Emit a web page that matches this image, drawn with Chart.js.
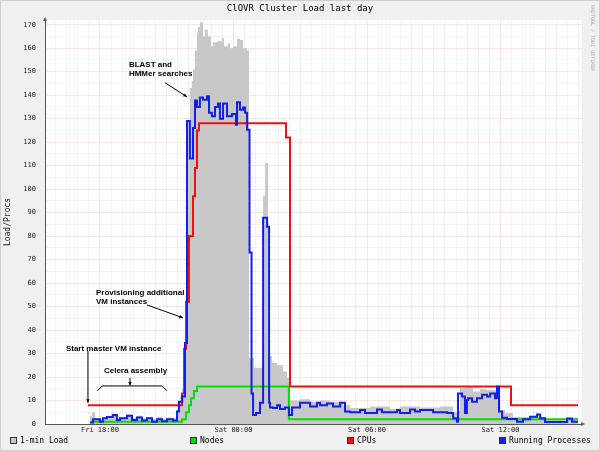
<!DOCTYPE html>
<html>
<head>
<meta charset="utf-8">
<script src="https://cdn.jsdelivr.net/npm/chart.js@4"></script>
<style>
  html, body { margin: 0; padding: 0; background: #f0f0f0; }
  #wrap { width: 600px; height: 451px; }
</style>
</head>
<body>
<div id="wrap"><canvas id="loadChart" width="600" height="451"></canvas></div>
<script>
// time is hours since Fri 00:00 (24 = Sat 00:00)
var loadTimes = [17.55, 17.64, 17.78, 18.00, 18.13, 18.31, 18.58, 18.76, 18.90, 19.21, 19.44, 19.66, 19.89, 20.11,
  20.34, 20.56, 20.79, 21.01, 21.28, 21.46, 21.60, 21.69, 21.78, 21.87, 21.96, 22.04, 22.13, 22.18, 22.27, 22.36,
  22.40, 22.49, 22.63, 22.72, 22.85, 22.99, 23.08, 23.26, 23.48, 23.57, 23.75, 23.84, 23.98, 24.16, 24.29, 24.43,
  24.61, 24.70, 24.92, 25.33, 25.42, 25.55, 25.73, 25.96, 26.22, 26.40, 26.54, 26.99, 27.44, 27.89, 28.34, 28.92,
  29.24, 30.13, 31.03, 31.48, 32.38, 33.28, 33.87, 34.04, 34.18, 34.49, 34.76, 35.08, 35.39, 35.84, 35.98, 36.20,
  36.56, 37.78, 39.48];
var loadValues = [3.5, 5, 2.5, 2, 3, 3.5, 4.5, 2.5, 3, 4, 2.5, 3.5, 2.5, 3,
  2, 3, 2, 2.8, 2.5, 6, 12, 15, 30, 80, 129, 143, 146, 151, 159, 166.6,
  169, 171, 165, 168, 165, 160.8, 162.5, 163, 164.3, 160.8, 162, 160, 160.8, 164, 163.5, 160,
  159, 28, 24, 97, 111, 29, 26, 25, 22.3, 19.6, 10, 10.5, 9.5, 10, 9.5, 8,
  6.8, 7.5, 6.5, 7.4, 7, 7.5, 5, 5.5, 15.3, 16, 13.8, 14.8, 14.5, 10, 6, 4.7,
  3, 2, 2];

var nodeTimes = [17.60, 21.69, 21.87, 22.00, 22.09, 22.22, 22.36, 26.49, 39.48];
var nodeValues = [1, 2, 5, 8, 11, 14, 16, 2, 2];

var cpuTimes = [17.46, 21.69, 21.78, 21.87, 22.00, 22.18, 22.27, 22.36, 22.45, 26.36, 26.54, 36.47, 39.48];
var cpuValues = [8, 13, 32, 52, 80, 97, 109, 125, 128, 122, 16, 8, 8];

var procTimes = [17.55, 17.69, 18.00, 18.13, 18.31, 18.58, 18.76, 18.90, 19.21, 19.44, 19.66, 19.89, 20.11, 20.34,
  20.56, 20.79, 21.01, 21.28, 21.46, 21.55, 21.69, 21.82, 21.91, 22.04, 22.18, 22.27, 22.36, 22.49, 22.63, 22.81,
  22.90, 23.03, 23.17, 23.30, 23.39, 23.53, 23.71, 23.93, 24.11, 24.16, 24.29, 24.43, 24.52, 24.61, 24.72, 24.81,
  24.88, 25.01, 25.19, 25.33, 25.51, 25.60, 25.64, 25.78, 25.96, 26.09, 26.31, 26.49, 26.63, 26.99, 27.44, 27.75,
  27.89, 28.20, 28.47, 28.79, 29.01, 29.24, 29.69, 29.91, 30.45, 30.67, 31.35, 31.48, 31.93, 32.16, 32.38, 32.97,
  33.60, 33.87, 34.04, 34.09, 34.27, 34.40, 34.49, 34.54, 34.72, 34.94, 35.17, 35.39, 35.53, 35.75, 35.84, 35.93,
  36.07, 36.29, 36.74, 37.01, 37.33, 37.64, 37.78, 38.00, 38.99, 39.21, 39.48];
var procValues = [0.6, 2, 1, 2.5, 3, 3.8, 1.7, 2.5, 3.5, 1.7, 2.8, 1.5, 2.5, 1,
  2, 1.2, 2, 1.5, 5.3, 9.5, 11.7, 34.5, 129, 113, 126, 137.7, 135, 139, 138, 139.5,
  132.5, 131, 135, 136.5, 130, 136.5, 131, 132, 127.4, 137, 133.8, 134.8, 132.5, 125.3, 73, 13,
  3.8, 4.7, 9, 87.8, 84, 9, 7, 6.8, 8, 6.4, 7, 3.8, 7, 9, 7.4, 9,
  8, 8.7, 7.4, 9, 5.3, 5, 6, 4.7, 6.2, 5, 6, 4.7, 6.2, 5.3, 6, 5,
  4.7, 2.5, 1, 13, 11.7, 4.7, 10.2, 11, 9.5, 11, 12.4, 11.7, 13, 11, 15.9, 5.3,
  2.7, 2.1, 1, 2, 3.1, 4, 2.5, 0.8, 2.3, 1, 1];

var xLabels = { 18: 'Fri 18:00', 24: 'Sat 00:00', 30: 'Sat 06:00', 36: 'Sat 12:00' };

var notes = [
  { lines: ['BLAST and', 'HMMer searches'], x: 19.30, y: 153, arrow: [[20.92, 145.3], [21.91, 139.3]] },
  { lines: ['Provisioning additional', 'VM instances'], x: 17.82, y: 56, arrow: [[20.11, 50.7], [21.73, 45.2]] },
  { lines: ['Start master VM instance'], x: 16.47, y: 32, arrow: [[17.46, 31.1], [17.46, 9.0]] },
  { lines: ['Celera assembly'], x: 18.18, y: 22.7, arrow: [[19.35, 19.6], [19.35, 16.4]],
    brace: [[17.87, 14.1], [18.09, 16.2], [20.79, 16.2], [21.01, 14.1]] }
];

function pts(times, values) {
  return times.map(function (t, i) { return { x: t, y: values[i] }; });
}

var mono = "'DejaVu Sans Mono', monospace";

var frame = {
  id: 'frame',
  beforeDraw: function (chart) {
    var ctx = chart.ctx, a = chart.chartArea;
    ctx.save();
    ctx.fillStyle = '#f0f0f0';
    ctx.fillRect(0, 0, chart.width, chart.height);
    ctx.fillStyle = '#ffffff';
    ctx.fillRect(a.left, a.top, a.right - a.left, a.bottom - a.top);
    ctx.strokeStyle = '#cfcfcf';
    ctx.lineWidth = 1;
    ctx.strokeRect(0.5, 0.5, chart.width - 1, chart.height - 1);
    ctx.restore();
  },
  afterDraw: function (chart) {
    var ctx = chart.ctx, a = chart.chartArea;
    var xs = chart.scales.x, ys = chart.scales.y;
    ctx.save();
    // title
    ctx.fillStyle = '#000';
    ctx.font = '9px ' + mono;
    ctx.textAlign = 'center';
    ctx.textBaseline = 'middle';
    ctx.fillText('ClOVR Cluster Load last day', 300, 9);
    // watermark
    ctx.save();
    ctx.translate(592, 5);
    ctx.rotate(Math.PI / 2);
    ctx.fillStyle = '#b0b0b0';
    ctx.font = '5px ' + mono;
    ctx.textAlign = 'left';
    ctx.fillText('RRDTOOL / TOBI OETIKER', 0, 0);
    ctx.restore();
    // axis arrows
    ctx.fillStyle = '#555';
    ctx.beginPath();
    ctx.moveTo(a.left - 2, a.top + 1); ctx.lineTo(a.left + 2, a.top + 1); ctx.lineTo(a.left, a.top - 3);
    ctx.fill();
    ctx.beginPath();
    ctx.moveTo(a.right - 1, a.bottom - 2); ctx.lineTo(a.right - 1, a.bottom + 2); ctx.lineTo(a.right + 3, a.bottom);
    ctx.fill();
    // notes
    ctx.fillStyle = '#000';
    ctx.strokeStyle = '#000';
    ctx.lineWidth = 1;
    ctx.font = "bold 8px 'Liberation Sans', Arial, sans-serif";
    ctx.textAlign = 'left';
    notes.forEach(function (n) {
      var px = xs.getPixelForValue(n.x), py = ys.getPixelForValue(n.y);
      n.lines.forEach(function (l, i) { ctx.fillText(l, px, py + i * 9.5); });
      var p0 = n.arrow[0], p1 = n.arrow[1];
      var x0 = xs.getPixelForValue(p0[0]), y0 = ys.getPixelForValue(p0[1]);
      var x1 = xs.getPixelForValue(p1[0]), y1 = ys.getPixelForValue(p1[1]);
      ctx.beginPath(); ctx.moveTo(x0, y0); ctx.lineTo(x1, y1); ctx.stroke();
      var ang = Math.atan2(y1 - y0, x1 - x0);
      ctx.beginPath();
      ctx.moveTo(x1, y1);
      ctx.lineTo(x1 - 4 * Math.cos(ang - 0.45), y1 - 4 * Math.sin(ang - 0.45));
      ctx.lineTo(x1 - 4 * Math.cos(ang + 0.45), y1 - 4 * Math.sin(ang + 0.45));
      ctx.closePath(); ctx.fill();
      if (n.brace) {
        ctx.beginPath();
        n.brace.forEach(function (b, i) {
          var bx = xs.getPixelForValue(b[0]), by = ys.getPixelForValue(b[1]);
          if (i === 0) ctx.moveTo(bx, by); else ctx.lineTo(bx, by);
        });
        ctx.stroke();
      }
    });
    // legend
    var spots = [10, 190, 347, 499];
    ctx.font = '8px ' + mono;
    ctx.textBaseline = 'middle';
    chart.data.datasets.forEach(function (ds, i) {
      var lx = spots[i];
      ctx.fillStyle = ds.legendColor;
      ctx.fillRect(lx, 437, 6, 6);
      ctx.strokeStyle = '#333';
      ctx.strokeRect(lx + 0.5, 437.5, 6, 6);
      ctx.fillStyle = '#000';
      ctx.fillText(ds.label, lx + 10, 440.5);
    });
    ctx.restore();
  }
};

new Chart(document.getElementById('loadChart'), {
  type: 'line',
  data: {
    datasets: [
      {
        label: '1-min Load',
        data: pts(loadTimes, loadValues),
        stepped: true,
        fill: 'origin',
        backgroundColor: '#c8c8c8',
        borderWidth: 0,
        borderColor: 'rgba(0,0,0,0)',
        legendColor: '#c8c8c8',
        pointRadius: 0,
        order: 4
      },
      {
        label: 'Nodes',
        data: pts(nodeTimes, nodeValues),
        stepped: true,
        fill: false,
        borderColor: '#00e000',
        legendColor: '#00e000',
        borderWidth: 2,
        pointRadius: 0,
        order: 3
      },
      {
        label: 'CPUs',
        data: pts(cpuTimes, cpuValues),
        stepped: true,
        fill: false,
        borderColor: '#ee1111',
        legendColor: '#ee1111',
        borderWidth: 2,
        pointRadius: 0,
        order: 2
      },
      {
        label: 'Running Processes',
        data: pts(procTimes, procValues),
        stepped: true,
        fill: false,
        borderColor: '#1020e8',
        legendColor: '#1020e8',
        borderWidth: 2,
        pointRadius: 0,
        order: 1
      }
    ]
  },
  options: {
    responsive: false,
    animation: false,
    layout: { padding: { top: 20, right: 18, bottom: 15, left: 0 } },
    plugins: {
      legend: { display: false },
      title: { display: false },
      tooltip: { enabled: false }
    },
    scales: {
      x: {
        type: 'linear',
        min: 15.53,
        max: 39.66,
        afterFit: function (s) { s.height = 12; },
        ticks: {
          stepSize: 0.5,
          includeBounds: false,
          autoSkip: false,
          maxRotation: 0,
          padding: 2,
          color: '#222',
          font: { family: mono, size: 7 },
          callback: function (v) { return xLabels[v] || ''; }
        },
        grid: {
          drawTicks: false,
          color: function (c) {
            var v = c.tick && c.tick.value;
            return (v % 6 === 0) ? 'rgba(245,190,190,0.4)' : 'rgba(220,220,220,0.35)';
          }
        },
        border: { color: '#555', width: 1 }
      },
      y: {
        min: 0,
        max: 172,
        afterFit: function (s) { s.width = 45; },
        title: {
          display: true,
          text: 'Load/Procs',
          color: '#222',
          font: { family: mono, size: 8 },
          padding: { top: 3, bottom: 0 }
        },
        ticks: {
          stepSize: 5,
          includeBounds: false,
          padding: 9,
          color: '#222',
          font: { family: mono, size: 7 },
          callback: function (v) { return v % 10 === 0 ? String(v) : ''; }
        },
        grid: {
          drawTicks: false,
          color: function (c) {
            var v = c.tick && c.tick.value;
            return (v % 10 === 0) ? 'rgba(245,190,190,0.4)' : 'rgba(220,220,220,0.35)';
          }
        },
        border: { color: '#555', width: 1 }
      }
    }
  },
  plugins: [frame]
});
</script>
</body>
</html>
